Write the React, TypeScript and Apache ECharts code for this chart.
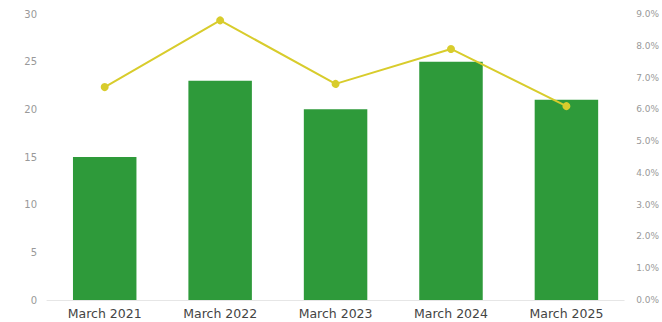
import React, { useEffect, useRef } from "react";
import * as echarts from "echarts";

const categories = ["March 2021", "March 2022", "March 2023", "March 2024", "March 2025"];
const barValues = [15, 23, 20, 25, 21];
const lineValues = [6.7, 8.8, 6.8, 7.9, 6.1];
const leftTicks = [0, 5, 10, 15, 20, 25, 30];
const rightTicks = [0, 1, 2, 3, 4, 5, 6, 7, 8, 9];

export default function App() {
  const ref = useRef<HTMLDivElement>(null);
  useEffect(() => {
    const chart = echarts.init(ref.current!, null, { renderer: "svg" });
    chart.setOption({
      animation: false,
      grid: { left: 47, right: 35, top: 14, bottom: 22, containLabel: false },
      xAxis: {
        type: "category",
        data: categories,
        axisLine: { show: true, lineStyle: { color: "#e6e6e6" } },
        axisTick: { show: false },
        axisLabel: { color: "#444", fontSize: 12.5, fontFamily: "DejaVu Sans", margin: 7 },
      },
      yAxis: [
        {
          type: "value",
          min: leftTicks[0],
          max: leftTicks[leftTicks.length - 1],
          interval: 5,
          splitLine: { show: false },
          axisLine: { show: false },
          axisTick: { show: false },
          axisLabel: { color: "#999", fontSize: 10, fontFamily: "DejaVu Sans", margin: 10 },
        },
        {
          type: "value",
          min: rightTicks[0],
          max: rightTicks[rightTicks.length - 1],
          interval: 1,
          splitLine: { show: false },
          axisLine: { show: false },
          axisTick: { show: false },
          axisLabel: {
            color: "#999",
            fontSize: 9,
            fontFamily: "DejaVu Sans",
            margin: 12,
            formatter: (v: number) => v.toFixed(1) + "%",
          },
        },
      ],
      series: [
        {
          type: "bar",
          data: barValues,
          barWidth: "55%",
          itemStyle: { color: "#2e9a3a" },
          yAxisIndex: 0,
        },
        {
          type: "line",
          data: lineValues,
          yAxisIndex: 1,
          symbol: "circle",
          symbolSize: 8,
          lineStyle: { color: "#d8cc2c", width: 2 },
          itemStyle: { color: "#d8cc2c" },
        },
      ],
    });
    return () => chart.dispose();
  }, []);
  return <div ref={ref} style={{ width: 662, height: 322, position: "absolute", left: 0, top: 0 }} />;
}
